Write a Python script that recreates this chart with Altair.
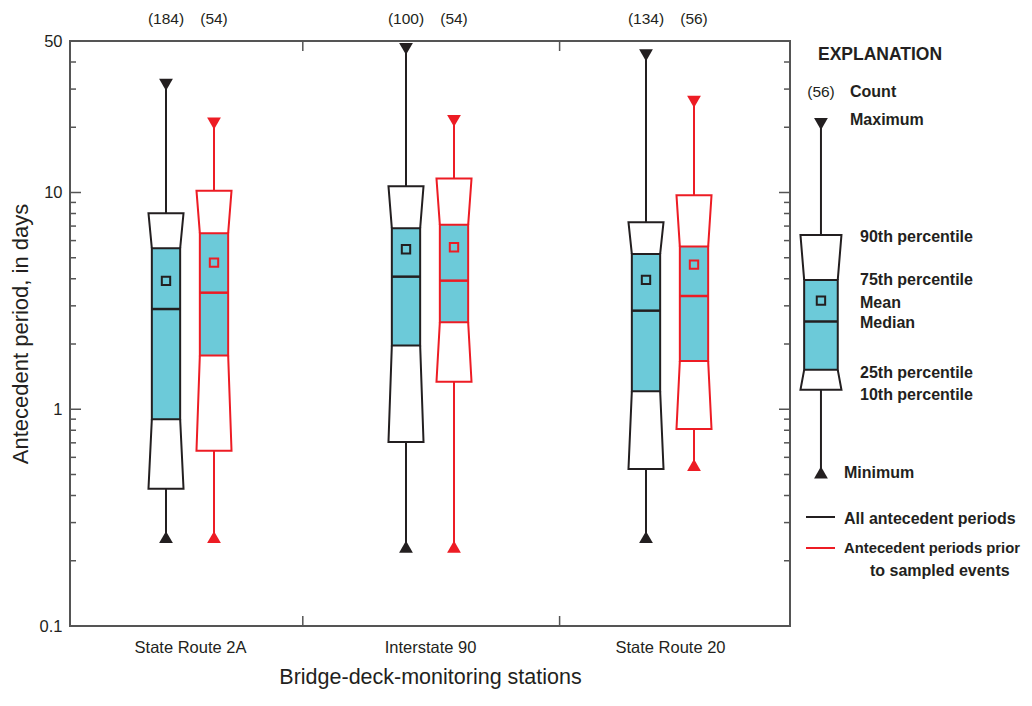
import altair as alt
import pandas as pd

# ---------------- data ----------------
stations = ["State Route 2A", "Interstate 90", "State Route 20"]
series = ["All antecedent periods", "Antecedent periods prior to sampled events"]

counts_all = [184, 100, 134]
counts_prior = [54, 54, 56]

all_min = [0.257, 0.232, 0.257]
all_p10 = [0.430, 0.706, 0.53]
all_p25 = [0.899, 1.97, 1.21]
all_median = [2.90, 4.09, 2.85]
all_p75 = [5.53, 6.84, 5.21]
all_p90 = [8.03, 10.7, 7.3]
all_max = [31.4, 46.0, 43.0]
all_mean = [3.91, 5.47, 3.95]

prior_min = [0.257, 0.232, 0.553]
prior_p10 = [0.644, 1.34, 0.81]
prior_p25 = [1.77, 2.52, 1.67]
prior_median = [3.45, 3.92, 3.33]
prior_p75 = [6.49, 7.09, 5.63]
prior_p90 = [10.2, 11.6, 9.72]
prior_max = [20.8, 21.4, 26.2]
prior_mean = [4.75, 5.59, 4.65]

# explanation (legend) example box
legend_count = 56
legend_stats = dict(min=0.511, p10=1.23, p25=1.52, median=2.54, p75=3.95,
                    p90=6.37, max=20.7, mean=3.17)

y_label_ticks = [0.1, 1, 10, 50]
y_minor_ticks = [0.2, 0.3, 0.4, 0.5, 0.6, 0.7, 0.8, 0.9,
                 2, 3, 4, 5, 6, 7, 8, 9, 20, 30, 40]
separators = [0.97, 2.04]

# ---------------- styles ----------------
BLACK = "#231f20"
RED = "#ed1c24"
CYAN = "#6ccad9"
FRAME = "#555555"
FONT = "Liberation Sans"
W, H = 720, 585
dodge = 0.1          # group units
half_out, half_in = 0.073, 0.059
leg_pos, leg_out, leg_in = 3.129, 0.0854, 0.070

xs = alt.Scale(domain=[0, 3], nice=False, zero=False)
ys = alt.Scale(type="log", domain=[0.1, 50], nice=False)
col = alt.Scale(domain=series, range=[BLACK, RED])

label_expr = "[" + ",".join(f"'{s}'" for s in stations) + "][floor(datum.value)]"
xax = alt.Axis(values=[0.5, 1.5, 2.5], labelExpr=label_expr, ticks=False, tickSize=0,
               domain=False, grid=False, labelFontSize=16.5, labelColor=BLACK,
               labelFont=FONT, labelPadding=13, title="Bridge-deck-monitoring stations",
               titleFontSize=21.5, titleFontWeight="normal", titleColor=BLACK,
               titleFont=FONT, titlePadding=11)
yax = alt.Axis(values=y_label_ticks, format="~g", ticks=False, tickSize=0, domain=False,
               grid=False, labelFontSize=16.5, labelColor=BLACK, labelFont=FONT,
               labelPadding=8, title="Antecedent period, in days", titleFontSize=22,
               titleFontWeight="normal", titleColor=BLACK, titleFont=FONT,
               titlePadding=7)

stats_all = dict(min=all_min, p10=all_p10, p25=all_p25, median=all_median,
                 p75=all_p75, p90=all_p90, max=all_max, mean=all_mean)
stats_prior = dict(min=prior_min, p10=prior_p10, p25=prior_p25, median=prior_median,
                   p75=prior_p75, p90=prior_p90, max=prior_max, mean=prior_mean)

rows = []
for i, st in enumerate(stations):
    for s, (stats, cnt) in enumerate([(stats_all, counts_all), (stats_prior, counts_prior)]):
        r = {k: v[i] for k, v in stats.items()}
        r.update(station=st, series=series[s], pos=i + 0.5 + (2 * s - 1) * dodge,
                 ho=half_out, hi=half_in, count=f"({cnt[i]})", main=True)
        rows.append(r)
lr = dict(legend_stats)
lr.update(station="legend", series=series[0], pos=leg_pos, ho=leg_out, hi=leg_in,
          count=f"({legend_count})", main=False)
rows.append(lr)
df = pd.DataFrame(rows)
df["il"] = df["pos"] - df["hi"]
df["ir"] = df["pos"] + df["hi"]

poly = []
for j, r in df.iterrows():
    for part, (inner, outer) in {"up": ("p75", "p90"), "lo": ("p25", "p10")}.items():
        pts = [(r.pos - r.hi, r[inner]), (r.pos - r.ho, r[outer]),
               (r.pos + r.ho, r[outer]), (r.pos + r.hi, r[inner])]
        for k, (px, py) in enumerate(pts):
            poly.append(dict(id=f"{j}-{part}", k=k, x=px, y=py, series=r.series))
dpoly = pd.DataFrame(poly)


def X(f):
    return alt.X(f, type="quantitative", scale=xs, axis=xax)


def Y(f):
    return alt.Y(f, type="quantitative", scale=ys, axis=yax)


clr = alt.Color("series:N", scale=col, legend=None)
strk = alt.Stroke("series:N", scale=col, legend=None)

trap = alt.Chart(dpoly).mark_line(strokeWidth=2).encode(
    x=X("x"), y=Y("y"), color=clr, detail="id:N", order="k:Q")
whisk_up = alt.Chart(df).mark_rule(strokeWidth=2).encode(
    x=X("pos"), y=Y("p90"), y2="max", color=clr)
whisk_lo = alt.Chart(df).mark_rule(strokeWidth=2).encode(
    x=X("pos"), y=Y("min"), y2="p10", color=clr)
iqr = alt.Chart(df).mark_rect(fill=CYAN, strokeWidth=2).encode(
    x=X("il"), x2="ir", y=Y("p25"), y2="p75", stroke=strk)
med = alt.Chart(df).mark_rule(strokeWidth=2.5).encode(
    x=X("il"), x2="ir", y=Y("median"), color=clr)
mean = alt.Chart(df).mark_point(shape="square", filled=False, size=70, strokeWidth=2,
                                opacity=1).encode(x=X("pos"), y=Y("mean"), color=clr)
mx = alt.Chart(df).mark_point(shape="triangle-down", filled=True, size=190,
                              opacity=1).encode(x=X("pos"), y=Y("max"), color=clr)
mn = alt.Chart(df).mark_point(shape="triangle-up", filled=True, size=190,
                              opacity=1).encode(x=X("pos"), y=Y("min"), color=clr)
counts = alt.Chart(df[df.main]).mark_text(fontSize=15.5, font=FONT, color=BLACK).encode(
    x=X("pos"), y=alt.value(-22), text="count:N")

dmaj = pd.DataFrame({"v": y_label_ticks})
dmin = pd.DataFrame({"v": y_minor_ticks})
tick_layers = []
for d, ln in [(dmaj, 11), (dmin, 6)]:
    tick_layers.append(alt.Chart(d).mark_rule(color=FRAME, strokeWidth=1.5).encode(
        y=Y("v"), x=alt.value(0), x2=alt.value(ln)))
    tick_layers.append(alt.Chart(d).mark_rule(color=FRAME, strokeWidth=1.5).encode(
        y=Y("v"), x=alt.value(W), x2=alt.value(W - ln)))
dsep = pd.DataFrame({"v": separators})
for a, b in [(H, H - 10), (0, 10)]:
    tick_layers.append(alt.Chart(dsep).mark_rule(color=FRAME, strokeWidth=1.5).encode(
        x=X("v"), y=alt.value(a), y2=alt.value(b)))

one = pd.DataFrame({"a": [0]})


def txt(s, x, y, size=16, weight="bold", align="left"):
    return alt.Chart(one).mark_text(text=s, fontSize=size, fontWeight=weight, font=FONT,
                                    color=BLACK, align=align, baseline="middle").encode(
        x=alt.value(x), y=alt.value(y))


legend_layers = [
    txt("EXPLANATION", 748, 14, size=17.5),
    txt(f"({legend_count})", 751, 51, size=15.5, weight="normal", align="center"),
    txt("Count", 780, 51),
    txt("Maximum", 780, 79),
    txt("90th percentile", 790, 196),
    txt("75th percentile", 790, 239),
    txt("Mean", 790, 262),
    txt("Median", 790, 282),
    txt("25th percentile", 790, 332),
    txt("10th percentile", 790, 354),
    txt("Minimum", 774, 432),
    txt("All antecedent periods", 774, 478),
    txt("Antecedent periods prior", 774, 508, size=14.8),
    txt("to sampled events", 800, 530),
    alt.Chart(one).mark_rule(color=BLACK, strokeWidth=2).encode(
        x=alt.value(736), x2=alt.value(765), y=alt.value(476)),
    alt.Chart(one).mark_rule(color=RED, strokeWidth=2).encode(
        x=alt.value(736), x2=alt.value(765), y=alt.value(507)),
]

chart = alt.layer(
    *tick_layers, trap, whisk_up, whisk_lo, iqr, med, mean, mx, mn, counts,
    *legend_layers
).properties(
    width=W, height=H,
    autosize=alt.AutoSizeParams(type="none"),
    padding={"left": 62, "top": 33, "right": 234, "bottom": 67},
).configure(
    font=FONT,
    view=alt.ViewConfig(stroke=FRAME, strokeWidth=2),
)

chart.save("out.html", embed_options={"renderer": "svg", "actions": False})
